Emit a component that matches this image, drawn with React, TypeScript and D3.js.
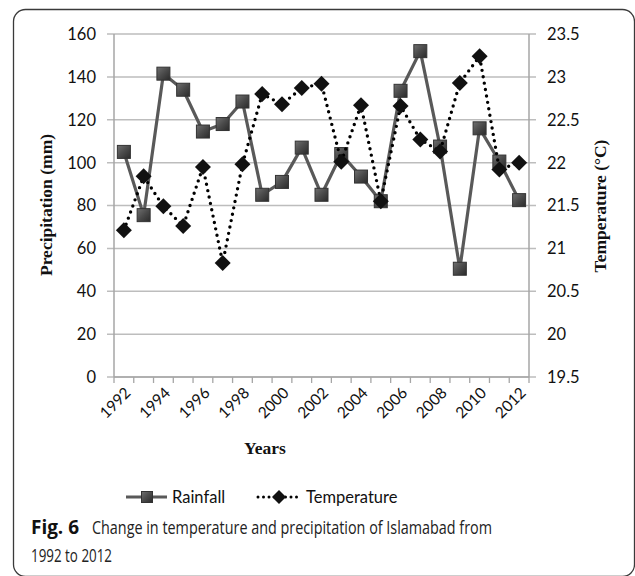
import React from "react";
import * as d3 from "d3";

const years = [1992,1993,1994,1995,1996,1997,1998,1999,2000,2001,2002,2003,2004,2005,2006,2007,2008,2009,2010,2011,2012];
const rainfall = [105,75.5,141.5,134,114.5,118,128.5,85,91,107,85,104,93.5,82,133.5,152,107.5,50.5,116,100.5,82.5];
const temperature = [21.21,21.84,21.49,21.26,21.95,20.83,21.98,22.8,22.68,22.87,22.92,22.01,22.67,21.55,22.66,22.27,22.13,22.93,23.24,21.92,22.0];
const leftTicks = [0,20,40,60,80,100,120,140,160];
const rightTicks = [19.5,20,20.5,21,21.5,22,22.5,23,23.5];
const labelYears = [1992,1994,1996,1998,2000,2002,2004,2006,2008,2010,2012];

const W = 635, H = 576;
const plotL = 114, plotR = 529, plotT = 34, plotB = 377;
const tickFont = "Lato, 'Open Sans', sans-serif";
const serif = "'Liberation Serif', 'DejaVu Serif', serif";

export default function App() {
  const x = d3.scaleBand<number>().domain(years).range([plotL, plotR]).padding(0);
  const cx = (yr: number) => (x(yr) as number) + x.bandwidth() / 2;
  const yL = d3.scaleLinear().domain([0, 160]).range([plotB, plotT]);
  const yR = d3.scaleLinear().domain([19.5, 23.5]).range([plotB, plotT]);

  const rainLine = d3.line<number>().x((_, i) => cx(years[i])).y((d) => yL(d))(rainfall) || "";
  const tempLine = d3.line<number>().x((_, i) => cx(years[i])).y((d) => yR(d))(temperature) || "";

  const sq = 13;
  const dm = 8;
  const diamond = (px: number, py: number, r: number) =>
    `M${px},${py - r}L${px + r},${py}L${px},${py + r}L${px - r},${py}Z`;

  const boundaries = years.map((yr) => x(yr) as number).concat([plotR]);

  return (
    <svg width={W} height={H} style={{ position: "absolute", left: 0, top: 0, background: "#fff" }}>
      <defs>
        <linearGradient id="sqg" x1="0" y1="0" x2="1" y2="1">
          <stop offset="0" stopColor="#707070" />
          <stop offset="0.5" stopColor="#4a4a4a" />
          <stop offset="1" stopColor="#2a2a2a" />
        </linearGradient>
      </defs>
      <rect x={0} y={0} width={W} height={H} fill="#fff" />
      <rect x={13.5} y={9.5} width={621} height={567} rx={12} fill="none" stroke="#3a3a3a" strokeWidth={1.3} />

      {leftTicks.map((t) => (
        <line key={"g" + t} x1={plotL - 7} x2={plotR + 7} y1={yL(t)} y2={yL(t)} stroke="#bdbdbd" strokeWidth={1.5} />
      ))}
      <line x1={plotL} x2={plotL} y1={plotT} y2={plotB} stroke="#a6a6a6" strokeWidth={1.5} />
      <line x1={plotR} x2={plotR} y1={plotT} y2={plotB} stroke="#a6a6a6" strokeWidth={1.5} />
      <line x1={plotL} x2={plotR} y1={plotB} y2={plotB} stroke="#a6a6a6" strokeWidth={1.5} />
      {boundaries.map((b, i) => (
        <line key={"t" + i} x1={b} x2={b} y1={plotB} y2={plotB + 6} stroke="#a6a6a6" strokeWidth={1.3} />
      ))}

      {leftTicks.map((t) => (
        <text key={"l" + t} x={96} y={yL(t)} dy="0.36em" textAnchor="end" fontFamily={tickFont} fontSize={16.5} fill="#111">
          {t}
        </text>
      ))}
      {rightTicks.map((t) => (
        <text key={"r" + t} x={547} y={yR(t)} dy="0.36em" textAnchor="start" fontFamily={tickFont} fontSize={16.5} fill="#111">
          {t}
        </text>
      ))}
      {labelYears.map((yr) => (
        <text key={"x" + yr} transform={`translate(${cx(yr) + 4},${plotB + 13}) rotate(-45)`} textAnchor="end" dy="0.35em" fontFamily={tickFont} fontSize={15.5} fill="#111">
          {yr}
        </text>
      ))}

      <text transform={`translate(52,205) rotate(-90)`} textAnchor="middle" fontFamily={serif} fontWeight="bold" fontSize={17.5} fill="#111">
        Precipitation (mm)
      </text>
      <text transform={`translate(606,206) rotate(-90)`} textAnchor="middle" fontFamily={serif} fontWeight="bold" fontSize={17.5} fill="#111">
        Temperature (°C)
      </text>
      <text x={265} y={454} textAnchor="middle" fontFamily={serif} fontWeight="bold" fontSize={17.5} fill="#111">
        Years
      </text>

      <path d={rainLine} fill="none" stroke="#595959" strokeWidth={3.2} strokeLinejoin="round" />
      {rainfall.map((v, i) => (
        <rect key={"s" + i} x={cx(years[i]) - sq / 2} y={yL(v) - sq / 2} width={sq} height={sq} fill="url(#sqg)" stroke="#333" strokeWidth={1} />
      ))}

      <path d={tempLine} fill="none" stroke="#000" strokeWidth={3.4} strokeDasharray="0 6.5" strokeLinecap="round" />
      {temperature.map((v, i) => (
        <path key={"d" + i} d={diamond(cx(years[i]), yR(v), dm)} fill="#111" />
      ))}

      <line x1={126} x2={167} y1={497} y2={497} stroke="#595959" strokeWidth={3.2} />
      <rect x={147 - 5.5} y={497 - 5.5} width={11} height={11} fill="url(#sqg)" stroke="#333" strokeWidth={1} />
      <text x={172} y={503} fontFamily={tickFont} fontSize={16.5} fill="#111">Rainfall</text>
      <line x1={258} x2={300} y1={497} y2={497} stroke="#000" strokeWidth={3} strokeDasharray="0 5.5" strokeLinecap="round" />
      <path d={diamond(279, 497, 7)} fill="#111" />
      <text x={306} y={503} fontFamily={tickFont} fontSize={16.5} fill="#111">Temperature</text>

      <text x={31} y={534} fontFamily="'Open Sans', sans-serif" fontWeight="bold" fontSize={19} fill="#111" textLength={48} lengthAdjust="spacingAndGlyphs">
        Fig. 6
      </text>
      <text x={92} y={534} fontFamily="'Open Sans', sans-serif" fontSize={19} fill="#222" textLength={400} lengthAdjust="spacingAndGlyphs">
        Change in temperature and precipitation of Islamabad from
      </text>
      <text x={31} y={562} fontFamily="'Open Sans', sans-serif" fontSize={19} fill="#222" textLength={81} lengthAdjust="spacingAndGlyphs">
        1992 to 2012
      </text>
    </svg>
  );
}
